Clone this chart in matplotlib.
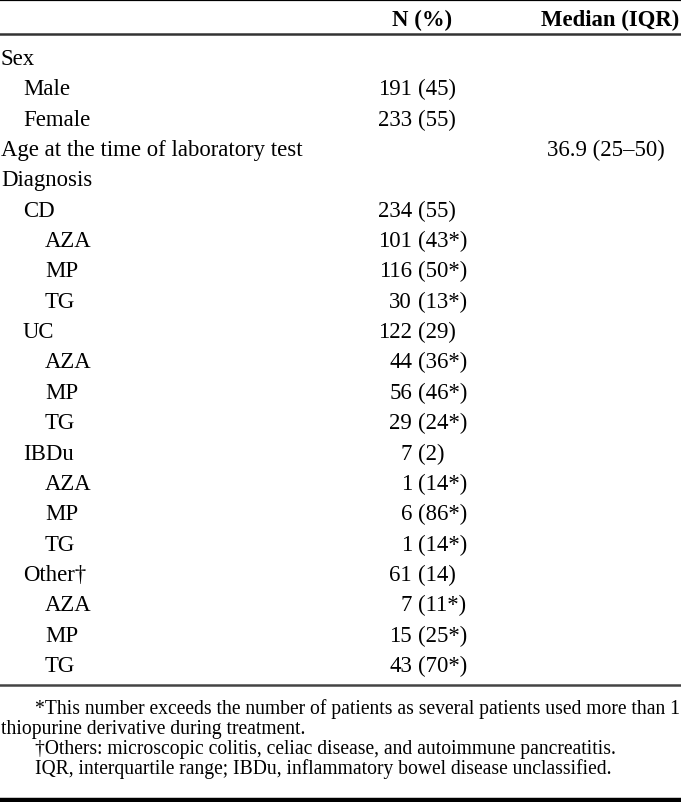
import matplotlib.pyplot as plt

plt.rcParams['font.family'] = ['Liberation Serif', 'DejaVu Serif']

# table content
labels = ['Sex', 'Male', 'Female', 'Age at the time of laboratory test', 'Diagnosis',
          'CD', 'AZA', 'MP', 'TG',
          'UC', 'AZA', 'MP', 'TG',
          'IBDu', 'AZA', 'MP', 'TG',
          'Other\u2020', 'AZA', 'MP', 'TG']
levels = [0, 1, 1, 0, 0,
          1, 2, 2, 2,
          1, 2, 2, 2,
          1, 2, 2, 2,
          1, 2, 2, 2]
counts = [None, 191, 233, None, None,
          234, 101, 116, 30,
          122, 44, 56, 29,
          7, 1, 6, 1,
          61, 7, 15, 43]
pcts = [None, '45', '55', None, None,
        '55', '43*', '50*', '13*',
        '29', '36*', '46*', '24*',
        '2', '14*', '86*', '14*',
        '14', '11*', '25*', '70*']
medians = {3: '36.9 (25\u201350)'}
headers = ['N (%)', 'Median (IQR)']
footnotes = [
    ('*This number exceeds the number of patients as several patients used more than 1', 35),
    ('thiopurine derivative during treatment.', 1),
    ('\u2020Others: microscopic colitis, celiac disease, and autoimmune pancreatitis.', 35),
    ('IQR, interquartile range; IBDu, inflammatory bowel disease unclassified.', 35),
]

W, H = 681, 803
fig = plt.figure(figsize=(W / 100, H / 100), dpi=100)
ax = fig.add_axes([0, 0, 1, 1])
ax.set_xlim(0, W)
ax.set_ylim(H, 0)
ax.axis('off')

fs = 16.4
row0, step = 65, 30.35
indent = [1, 23, 45]

# rules
ax.axhline(1.0, color='black', lw=1.6)
ax.axhline(34.5, color='#333333', lw=1.8)
ax.axhline(686, color='#444444', lw=1.8)
ax.axhline(800.5, color='black', lw=3.2)

# header
ax.text(422, 26, headers[0], fontsize=fs, fontweight='bold', ha='center', va='baseline')
ax.text(679.5, 26, headers[1], fontsize=fs, fontweight='bold', ha='right', va='baseline')

for i, lab in enumerate(labels):
    y = row0 + i * step
    ax.text(indent[levels[i]], y, lab, fontsize=fs, ha='left', va='baseline')
    if counts[i] is not None:
        ax.text(412, y, str(counts[i]), fontsize=fs, ha='right', va='baseline')
        ax.text(418, y, '(' + pcts[i] + ')', fontsize=fs, ha='left', va='baseline')
    if i in medians:
        ax.text(547, y, medians[i], fontsize=fs, ha='left', va='baseline')

fn_y = [714, 734.5, 754, 774]
for (txt, x), y in zip(footnotes, fn_y):
    ax.text(x, y, txt, fontsize=14.1, ha='left', va='baseline')

fig.savefig('out.png', dpi=100)
